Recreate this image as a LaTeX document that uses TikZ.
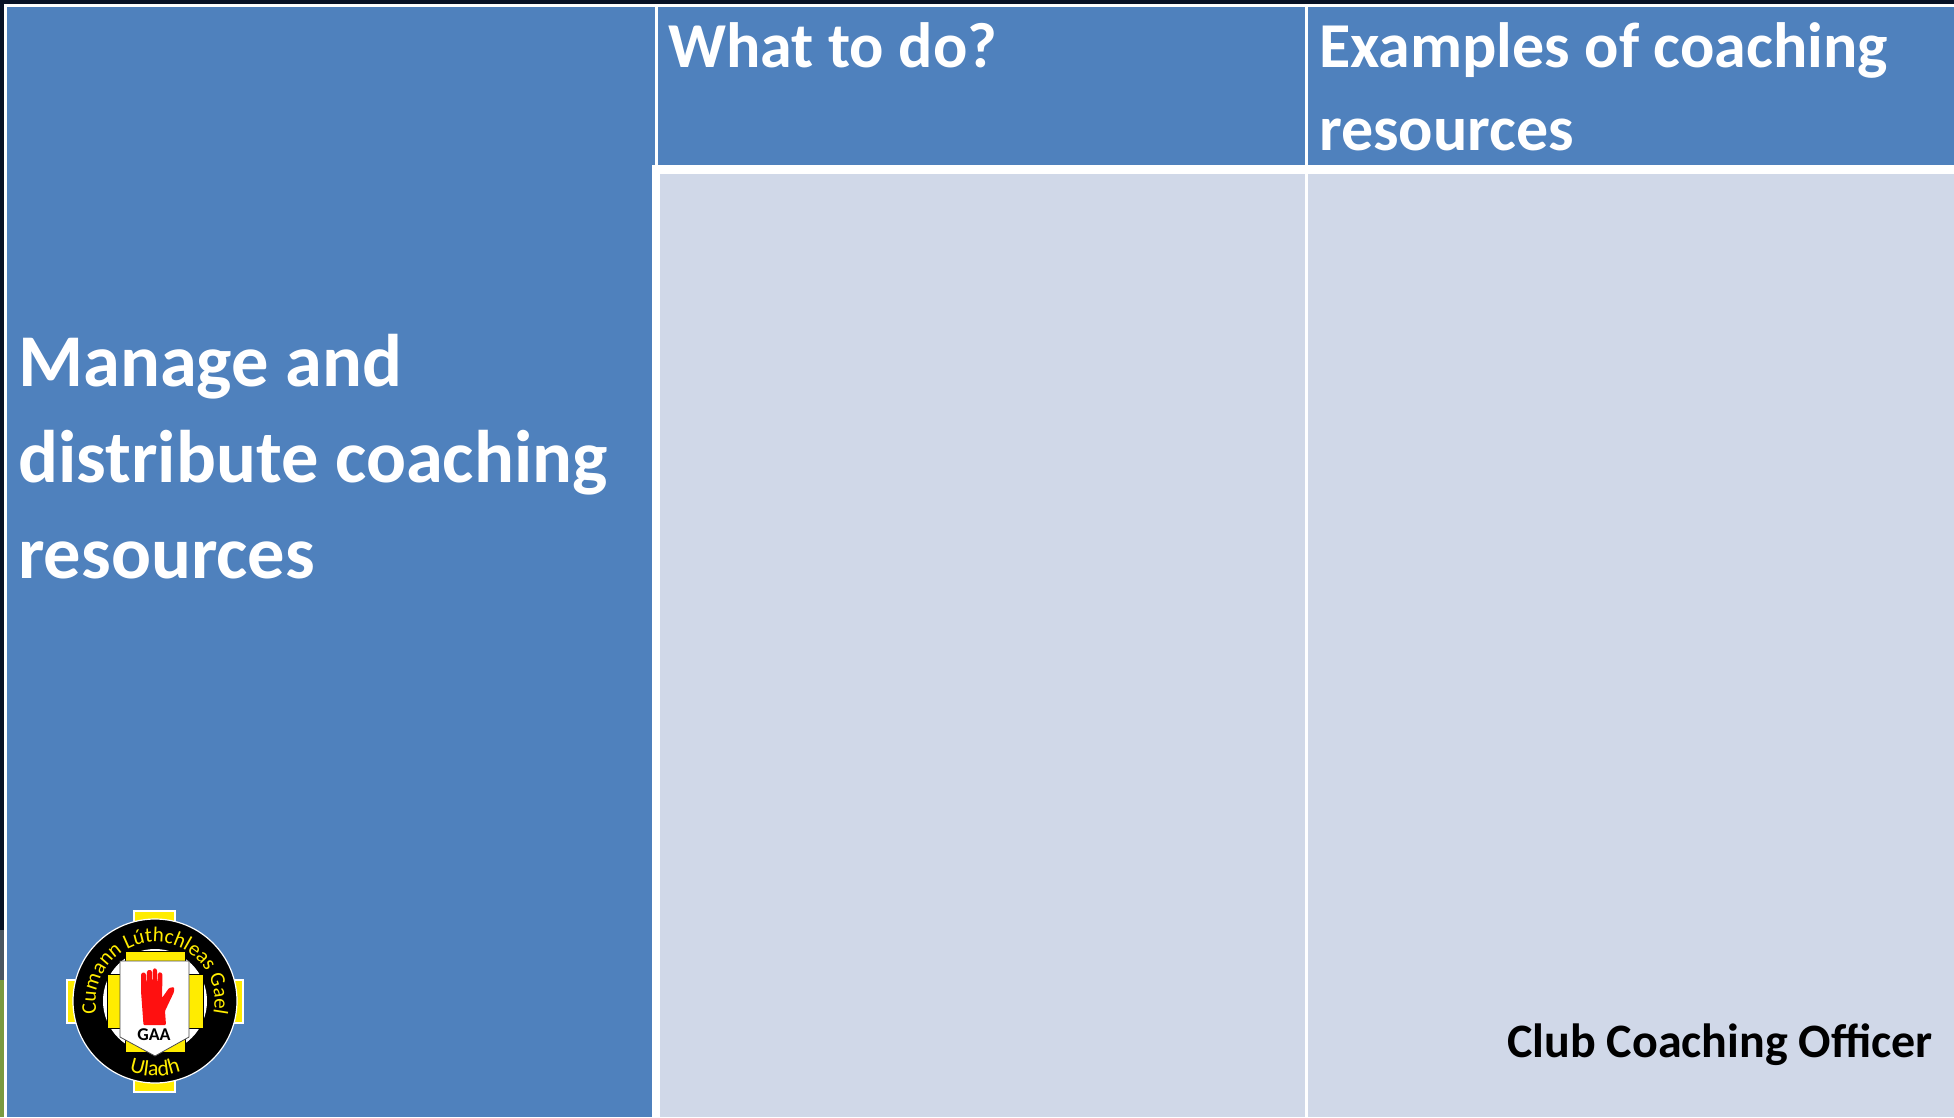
\documentclass[tikz,border=0pt]{standalone}
\usepackage{fontspec}
\setmainfont{Carlito}
\usetikzlibrary{decorations.text}
\definecolor{hdr}{HTML}{4F81BD}
\definecolor{cellc}{HTML}{D0D8E8}
\definecolor{navy}{HTML}{081226}
\definecolor{grass}{HTML}{7A9A40}
\definecolor{dusk}{HTML}{4A5660}
\definecolor{gold}{HTML}{FFEC00}
\definecolor{handred}{HTML}{FF1010}
\tikzset{
 x=1pt,y=-1pt,
 head/.style={text=white,font=\bfseries\fontsize{64}{64}\selectfont,anchor=base west,inner sep=0pt},
 bighead/.style={text=white,font=\bfseries\fontsize{74.5}{74.5}\selectfont,anchor=base west,inner sep=0pt},
 foot/.style={text=black,font=\bfseries\fontsize{48}{48}\selectfont,anchor=base east,inner sep=0pt},
 crest/.style={fill=gold,draw=white,line width=1.2pt},
 crestin/.style={fill=gold,draw=black,line width=.8pt},
}
\begin{document}
\begin{tikzpicture}
\useasboundingbox (0,0) rectangle (1954,1117);
% backdrop
\fill[navy] (0,0) rectangle (1954,1117);
\fill[dusk] (0,930) rectangle (4,980);
\fill[grass] (0,980) rectangle (4,1117);
% table base
\fill[white] (4,4) rectangle (1954,1117);
\fill[hdr] (7,7) rectangle (1954,1117);
% cells
\fill[cellc] (660,173.5) rectangle (1954,1117);
% rules
\fill[white] (654.5,7) rectangle (657.5,165);
\fill[white] (1305,7) rectangle (1308,1117);
\fill[white] (652,165) rectangle (1954,173.5);
\fill[white] (652,165) rectangle (660,1117);
% texts
\node[head] (t1) at (668,67) {What to do?};
\node[head] (t2) at (1319,67) {Examples of coaching};
\node[head] (t3) at (1319,150) {resources};
\node[bighead] (m1) at (18,386) {Manage and};
\node[bighead] (m2) at (18,482) {distribute coaching};
\node[bighead] (m3) at (18,578) {resources};
\node[foot] (f) at (1933,1057) {Club Coaching Officer};
% crest
\begin{scope}[shift={(155,1001)}]
 \fill[crest] (-21,-90) rectangle (20,91);
 \fill[crest] (-88,-21) rectangle (88,22);
 \fill[black,draw=white,line width=1.2pt] (0,0) circle (82);
 \fill[white] (0,0) circle (52);
 \fill[crestin] (-30,-50) rectangle (30,-38);
 \fill[crestin] (-48,-27) rectangle (48,27);
 \fill[crestin] (-30,38) rectangle (30,51);
 \fill[white,draw=black!70,line width=.8pt] (-35,-40) -- (34,-40) -- (34,36) -- (0,55) -- (-35,36) -- cycle;
 \fill[handred,rounded corners=1pt]
  (-11.5,24) -- (-14,-10) -- (-14,-27) -- (-11.5,-29) -- (-9,-27) -- (-8.5,-12) -- (-8,-30) -- (-5.5,-31.5) -- (-3,-30) -- (-2.5,-12) -- (-2,-32) -- (0.5,-33) -- (2,-31) -- (2.5,-12) -- (3,-28) -- (5.5,-29) -- (7.5,-27) -- (7,-3) -- (14,-13) -- (19,-14) -- (19,-9) -- (10,10) -- (11,24) -- cycle;
 \node[font=\bfseries\fontsize{18}{18}\selectfont,inner sep=0pt] (gaa) at (-1,34) {GAA};
 \path[decorate,decoration={text along path,text align=center,
   text={|\fontsize{21}{21}\selectfont\color{gold}|Cumann Lúthchleas Gael}}]
   (-58.5,11) arc[start angle=-190,end angle=10,radius=59.5];
 \path[decorate,decoration={text along path,text align=center,
   text={|\fontsize{22}{22}\selectfont\color{gold}|Uladh}}]
   (-37.5,65) arc[start angle=-240,end angle=-300,radius=75];
\end{scope}
\end{tikzpicture}
\end{document}
